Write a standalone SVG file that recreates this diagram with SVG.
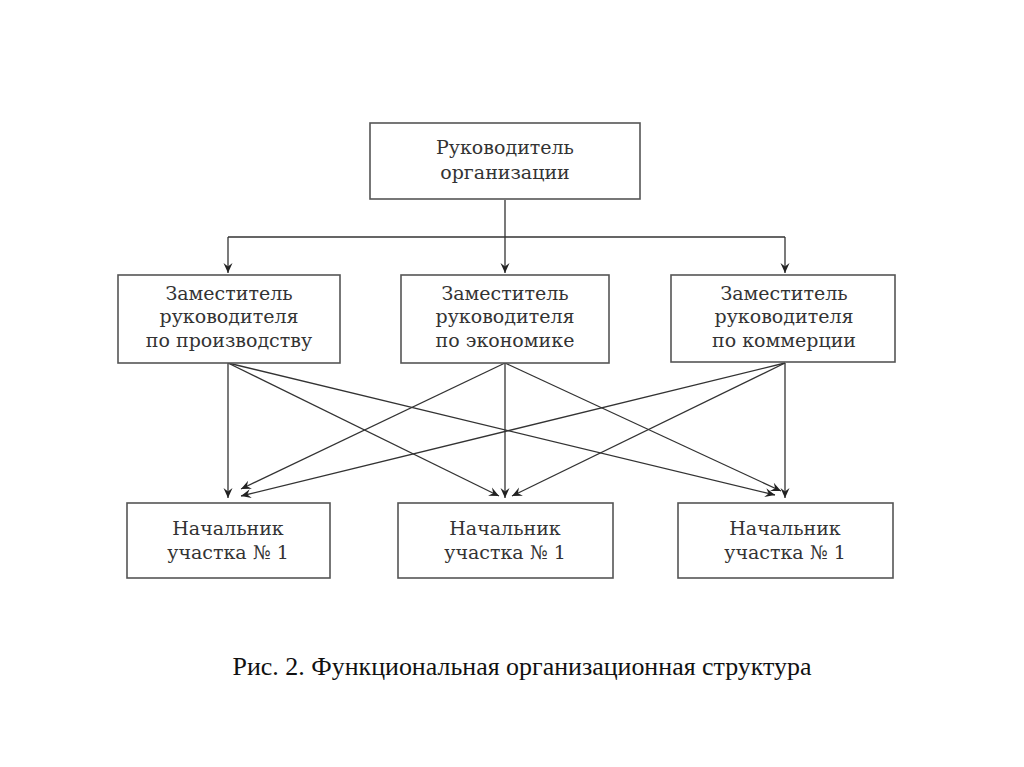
<svg xmlns="http://www.w3.org/2000/svg" width="1024" height="767" viewBox="0 0 1024 767">
<defs>
<marker id="ah" viewBox="0 0 10 10" refX="10" refY="5" markerWidth="11" markerHeight="10" markerUnits="userSpaceOnUse" orient="auto">
<path d="M0,0.5 L10,5 L0,9.5 L3.5,5 Z" fill="#222"/>
</marker>
<style>
.box{fill:#fff;stroke:#555;stroke-width:1.6}
.t{font-family:"DejaVu Serif","Liberation Serif",serif;font-size:19px;fill:#333;text-anchor:middle}
.c{fill:none;stroke:#333;stroke-width:1.3}
.a{fill:none;stroke:#333;stroke-width:1.3;marker-end:url(#ah)}
</style>
</defs>
<rect width="1024" height="767" fill="#fff"/>
<g id="connectors">
<path class="c" d="M505,200 V237 M228,237 H785"/>
<path class="a" d="M228,237 V273"/>
<path class="a" d="M505,237 V273"/>
<path class="a" d="M785,237 V273"/>
<path class="a" d="M228,363 V498"/>
<path class="a" d="M228,363 L499,496"/>
<path class="a" d="M228,363 L775,495"/>
<path class="a" d="M505,363 L241,489"/>
<path class="a" d="M505,363 V498"/>
<path class="a" d="M505,363 L781,491"/>
<path class="a" d="M785,363 L241,496"/>
<path class="a" d="M785,363 L512,496"/>
<path class="a" d="M785,363 V498"/>
</g>
<g id="n0"><rect class="box" x="370" y="123" width="270" height="76"/>
<text class="t" x="505" y="154">Руководитель</text><text class="t" x="505" y="179">организации</text></g>
<g id="n1"><rect class="box" x="118" y="275" width="222" height="88"/>
<text class="t" x="229" y="300">Заместитель</text><text class="t" x="229" y="323">руководителя</text><text class="t" x="229" y="347">по производству</text></g>
<g id="n2"><rect class="box" x="401" y="275" width="208" height="88"/>
<text class="t" x="505" y="300">Заместитель</text><text class="t" x="505" y="323">руководителя</text><text class="t" x="505" y="347">по экономике</text></g>
<g id="n3"><rect class="box" x="671" y="275" width="224" height="87"/>
<text class="t" x="784" y="300">Заместитель</text><text class="t" x="784" y="323">руководителя</text><text class="t" x="784" y="347">по коммерции</text></g>
<g id="n4"><rect class="box" x="127" y="503" width="203" height="75"/>
<text class="t" x="228" y="535">Начальник</text><text class="t" x="228" y="559">участка № 1</text></g>
<g id="n5"><rect class="box" x="398" y="503" width="215" height="75"/>
<text class="t" x="505" y="535">Начальник</text><text class="t" x="505" y="559">участка № 1</text></g>
<g id="n6"><rect class="box" x="678" y="503" width="215" height="75"/>
<text class="t" x="785" y="535">Начальник</text><text class="t" x="785" y="559">участка № 1</text></g>
<text x="522" y="675" font-family="Liberation Serif, serif" font-size="25" fill="#111" text-anchor="middle" textLength="579" lengthAdjust="spacingAndGlyphs">Рис. 2. Функциональная организационная структура</text>
</svg>
